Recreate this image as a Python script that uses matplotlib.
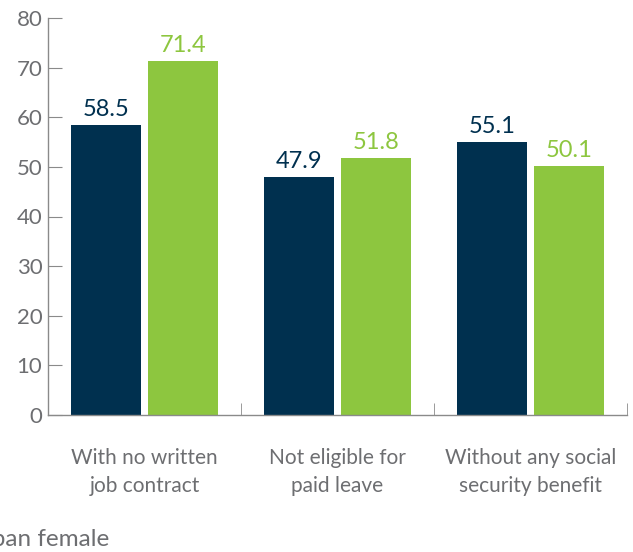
import numpy as np
import matplotlib
matplotlib.use("Agg")
import matplotlib.pyplot as plt

categories = ["With no written\njob contract", "Not eligible for\npaid leave", "Without any social\nsecurity benefit"]
serie_1 = [58.5, 47.9, 55.1]
serie_2 = [71.4, 51.8, 50.1]
legend_label = "Urban female"

navy = "#00304f"
green = "#8dc63f"
gris = "#6d6e71"

plt.rcParams['font.family'] = ['Lato', 'DejaVu Sans']

fig = plt.figure(figsize=(6.33, 5.52), dpi=100)
ax = fig.add_axes([48 / 633, 1 - 415 / 552, 579 / 633, 397 / 552])

x = np.arange(len(categories))
b1 = ax.bar(x - 0.2, serie_1, width=0.36, color=navy)
b2 = ax.bar(x + 0.2, serie_2, width=0.36, color=green)

for rects, col in [(b1, navy), (b2, green)]:
    for r in rects:
        ax.text(r.get_x() + r.get_width() / 2, r.get_height() + 1.0, f"{r.get_height():.1f}",
                ha='center', va='bottom', fontsize=17, color=col)

ax.set_xlim(-0.5, 2.5)
ax.set_ylim(0, 80)
ax.set_yticks(range(0, 81, 10))
ax.set_xticks(x)
ax.set_xticklabels(categories, fontsize=15, color=gris, linespacing=1.45)
ax.set_xticks([0.5, 1.5, 2.5], minor=True)

for s in ['top', 'right']:
    ax.spines[s].set_visible(False)
for s in ['left', 'bottom']:
    ax.spines[s].set_color('#8a8a8a')
    ax.spines[s].set_linewidth(1)

ax.tick_params(axis='y', direction='in', length=10, color='#8a8a8a', labelsize=16, labelcolor=gris, pad=4)
ax.tick_params(axis='x', which='major', length=0, pad=24)
ax.tick_params(axis='x', which='minor', direction='in', length=9, color='#8a8a8a')

fig.text(-0.055, 2 / 552, legend_label, fontsize=17.5, color=gris, ha='left', va='bottom')

fig.savefig("out.png", dpi=100)
